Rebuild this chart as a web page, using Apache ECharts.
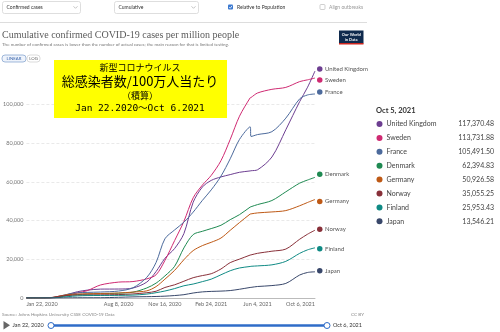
<!DOCTYPE html>
<html><head><meta charset="utf-8">
<script src="https://cdn.jsdelivr.net/npm/echarts@6/dist/echarts.min.js"></script>
<style>html,body{margin:0;padding:0;background:#fff}#c{width:500px;height:332px}</style>
</head><body><div id="c"></div>
<script>
// ---------- DATA ----------
const dates = ['2020-01-22','2020-02-21','2020-03-12','2020-04-01','2020-04-21','2020-05-11','2020-06-01','2020-06-30',
  '2020-08-08','2020-09-08','2020-10-08','2020-10-28','2020-11-16','2020-12-07','2020-12-27','2021-01-16','2021-02-05',
  '2021-02-24','2021-03-17','2021-04-06','2021-04-26','2021-05-19','2021-05-21','2021-06-04','2021-07-05','2021-08-04',
  '2021-09-03','2021-09-20','2021-10-06'];
const countries = ['United Kingdom','Sweden','France','Denmark','Germany','Norway','Finland','Japan'];
const ukValues      = [0,0,9,430,1900,3240,4050,4600,4640,5150,8250,13700,20500,25600,33300,49500,57400,60800,62600,63800,65000,65700,65800,66300,72900,87000,101600,109000,117370];
const swedenValues  = [0,0,50,485,1510,2640,3760,6730,8220,8500,9900,12000,19400,29700,39600,51800,58400,63400,71000,82000,94000,103500,103700,106000,107900,108900,111900,112800,113732];
const franceValues  = [0,0,40,870,2000,2700,2900,3090,3600,5280,10700,18400,30600,35200,39200,44400,50500,55900,63000,72000,82000,88500,83500,84500,86000,93000,103000,105000,105492];
const denmarkValues = [0,0,120,530,1340,1800,2000,2200,2480,3000,5200,7700,11400,16400,25900,32800,34500,35900,37600,40500,43100,47000,47200,48300,50400,54900,59400,61000,62395];
const germanyValues = [0,0,30,920,1770,2050,2200,2330,2580,3060,3700,5900,9730,14300,19800,24500,27100,28800,31000,35000,39000,43400,43500,44000,44500,45200,47700,49400,50927];
const norwayValues  = [0,0,130,850,1350,1510,1560,1640,1770,2100,2730,3500,5440,6830,8670,10500,11600,12550,15000,18300,20100,22200,22300,23100,24200,25300,30400,33000,35055];
const finlandValues = [0,0,20,250,720,1090,1240,1300,1370,1500,2020,2750,3610,4870,6320,7220,8480,9750,12000,14100,15520,16300,16400,16600,17150,18950,23100,24900,25953];
const japanValues   = [0,0,5,18,90,125,135,147,365,580,690,790,950,1270,1720,2580,3160,3410,3570,3850,4520,5450,5500,5950,6430,7540,11900,13200,13546];
const seriesValues = [ukValues, swedenValues, franceValues, denmarkValues, germanyValues, norwayValues, finlandValues, japanValues];
const xTickDates  = ['2020-01-22','2020-08-08','2020-11-16','2021-02-24','2021-06-04','2021-10-06'];
const xTickLabels = ['Jan 22, 2020','Aug 8, 2020','Nov 16, 2020','Feb 24, 2021','Jun 4, 2021','Oct 6, 2021'];
const yTickStep = 20000;
const panelDate = 'Oct 5, 2021';
const panelValues = ['117,370.48','113,731.88','105,491.50','62,394.83','50,926.58','35,055.25','25,953.43','13,546.21'];

// ---------- STYLE ----------
const colors = ['#6d3e91','#cf2a72','#4c6a9c','#1f8a52','#be5915','#883039','#0f8a84','#38476a'];
const labelNudge = [-2,2,-2,-3,2,-1,1,-1];

const t0 = Date.parse('2020-01-22T00:00:00Z');
const dayOf = s => Math.round((Date.parse(s + 'T00:00:00Z') - t0) / 864e5);
const xTickDays = xTickDates.map(dayOf);
const xMax = dayOf(dates[dates.length - 1]);
const yMax = Math.max(...seriesValues.map(a => Math.max(...a)));

const chart = echarts.init(document.getElementById('c'), null, {renderer: 'canvas'});
const UI = 'Lato, "Noto Sans", sans-serif';

const series = countries.map((name, i) => ({
  name, type: 'line', symbol: 'none', smooth: 0.3,
  lineStyle: {width: 1, color: colors[i]},
  itemStyle: {color: colors[i]},
  data: dates.map((d, k) => [dayOf(d), seriesValues[i][k]]),
  endLabel: {
    show: true, distance: 2, offset: [0, labelNudge[i]],
    formatter: '{d|}{n|' + name + '}',
    rich: {
      d: {width: 5.5, height: 5.5, borderRadius: 3, backgroundColor: colors[i]},
      n: {fontSize: 6, color: '#555', fontFamily: UI, padding: [0, 0, 0, 2.5]}
    }
  }
}));

const g = [];
// top controls
function dropdown(x, w, txt) {
  g.push({type: 'rect', shape: {x: x, y: 1.5, width: w, height: 12, r: 2}, style: {fill: '#fff', stroke: '#d5d5d5', lineWidth: 0.8}});
  g.push({type: 'text', style: {x: x + 4, y: 7.5, text: txt, fontSize: 5, fill: '#333', fontFamily: UI, verticalAlign: 'middle'}});
  g.push({type: 'polyline', shape: {points: [[x + w - 7, 6.3], [x + w - 5, 8.3], [x + w - 3, 6.3]]}, style: {stroke: '#aaa', lineWidth: 0.7, fill: null}});
}
dropdown(2.5, 78, 'Confirmed cases');
dropdown(114.5, 84, 'Cumulative');
g.push({type: 'rect', shape: {x: 228, y: 4.5, width: 5, height: 5, r: 1}, style: {fill: '#3a78d0'}});
g.push({type: 'polyline', shape: {points: [[229.2, 7], [230.3, 8.2], [232, 5.8]]}, style: {stroke: '#fff', lineWidth: 0.8, fill: null}});
g.push({type: 'text', style: {x: 237, y: 7.2, text: 'Relative to Population', fontSize: 5, fill: '#333', fontFamily: UI, verticalAlign: 'middle'}});
g.push({type: 'rect', shape: {x: 320, y: 4.5, width: 5, height: 5, r: 1}, style: {fill: '#fff', stroke: '#bbb', lineWidth: 0.7}});
g.push({type: 'text', style: {x: 329, y: 7.2, text: 'Align outbreaks', fontSize: 5, fill: '#999', fontFamily: UI, verticalAlign: 'middle'}});
g.push({type: 'line', shape: {x1: 0, y1: 22.5, x2: 367, y2: 22.5}, style: {stroke: '#ddd', lineWidth: 1}});
// title
g.push({type: 'text', style: {x: 2, y: 35, text: 'Cumulative confirmed COVID-19 cases per million people', fontSize: 10, fill: '#5b5b5b', fontFamily: '"Liberation Serif", serif', verticalAlign: 'middle'}});
g.push({type: 'text', style: {x: 2, y: 45, text: 'The number of confirmed cases is lower than the number of actual cases; the main reason for that is limited testing.', fontSize: 4.5, fill: '#777', fontFamily: UI, verticalAlign: 'middle'}});
// logo
g.push({type: 'rect', shape: {x: 339, y: 30.5, width: 24.5, height: 13}, style: {fill: '#0f2a4d'}});
g.push({type: 'rect', shape: {x: 339, y: 43, width: 24.5, height: 1.5}, style: {fill: '#ce261e'}});
g.push({type: 'text', style: {x: 351.2, y: 34.5, text: 'Our World', fontSize: 4, fontWeight: 'bold', fill: '#fff', fontFamily: UI, align: 'center', verticalAlign: 'middle'}});
g.push({type: 'text', style: {x: 351.2, y: 39.5, text: 'in Data', fontSize: 4, fontWeight: 'bold', fill: '#fff', fontFamily: UI, align: 'center', verticalAlign: 'middle'}});
// linear / log
g.push({type: 'rect', shape: {x: 2, y: 55, width: 24, height: 7, r: 3}, style: {fill: '#eef3fb', stroke: '#7a9ccc', lineWidth: 0.7}});
g.push({type: 'text', style: {x: 14, y: 58.6, text: 'LINEAR', fontSize: 4.3, fill: '#3360a9', fontFamily: UI, align: 'center', verticalAlign: 'middle'}});
g.push({type: 'rect', shape: {x: 27, y: 55, width: 13, height: 7, r: 3}, style: {fill: '#fff', stroke: '#ccc', lineWidth: 0.7}});
g.push({type: 'text', style: {x: 33.5, y: 58.6, text: 'LOG', fontSize: 4.3, fill: '#666', fontFamily: UI, align: 'center', verticalAlign: 'middle'}});
// yellow annotation
g.push({type: 'rect', shape: {x: 54, y: 60, width: 173, height: 58}, style: {fill: '#ffff00'}, z: 10});
const JP = '"Noto Sans CJK JP", sans-serif';
g.push({type: 'text', z: 11, style: {x: 140, y: 67.5, text: '新型コロナウイルス', fontSize: 9, fill: '#000', fontFamily: JP, align: 'center', verticalAlign: 'middle'}});
g.push({type: 'text', z: 11, style: {x: 140, y: 81, text: '総感染者数/100万人当たり', fontSize: 13, fill: '#000', fontFamily: JP, align: 'center', verticalAlign: 'middle'}});
g.push({type: 'text', z: 11, style: {x: 140, y: 96, text: '（積算）', fontSize: 9, fill: '#000', fontFamily: JP, align: 'center', verticalAlign: 'middle'}});
g.push({type: 'text', z: 11, style: {x: 140, y: 109, text: 'Jan 22.2020～Oct 6.2021', fontSize: 9.5, fill: '#000', fontFamily: '"DejaVu Sans Mono", "Noto Sans CJK JP", monospace', align: 'center', verticalAlign: 'middle'}});
// footer
g.push({type: 'text', style: {x: 2, y: 315, text: 'Source: Johns Hopkins University CSSE COVID-19 Data', fontSize: 4.6, fill: '#888', fontFamily: UI, verticalAlign: 'middle'}});
g.push({type: 'text', style: {x: 364, y: 315, text: 'CC BY', fontSize: 4.6, fill: '#888', fontFamily: UI, align: 'right', verticalAlign: 'middle'}});
g.push({type: 'polygon', shape: {points: [[3.5, 321], [3.5, 329.5], [10, 325.2]]}, style: {fill: '#666'}});
g.push({type: 'text', style: {x: 12.5, y: 325.5, text: xTickLabels[0], fontSize: 5.5, fill: '#333', fontFamily: UI, verticalAlign: 'middle'}});
g.push({type: 'line', shape: {x1: 51, y1: 325.5, x2: 327, y2: 325.5}, style: {stroke: '#2f6cc8', lineWidth: 2.5}});
g.push({type: 'circle', shape: {cx: 51, cy: 325.5, r: 3}, style: {fill: '#fff', stroke: '#2f6cc8', lineWidth: 1}});
g.push({type: 'circle', shape: {cx: 327, cy: 325.5, r: 3}, style: {fill: '#fff', stroke: '#2f6cc8', lineWidth: 1}});
g.push({type: 'text', style: {x: 333, y: 325.5, text: xTickLabels[xTickLabels.length - 1], fontSize: 5.5, fill: '#333', fontFamily: UI, verticalAlign: 'middle'}});
// right panel
g.push({type: 'text', style: {x: 376, y: 111, text: panelDate, fontSize: 7.5, fontWeight: 'bold', fill: '#333', fontFamily: UI, verticalAlign: 'middle'}});
countries.forEach((name, i) => {
  const y = 124 + 13.9 * i;
  g.push({type: 'circle', shape: {cx: 379.5, cy: y, r: 3}, style: {fill: colors[i]}});
  g.push({type: 'text', style: {x: 386.5, y: y, text: name, fontSize: 7, fill: '#444', fontFamily: UI, verticalAlign: 'middle'}});
  g.push({type: 'text', style: {x: 494, y: y, text: panelValues[i], fontSize: 7, fill: '#444', fontFamily: UI, align: 'right', verticalAlign: 'middle'}});
});

chart.setOption({
  animation: false,
  backgroundColor: '#fff',
  grid: {left: 25, right: 185, top: 71, bottom: 34},
  xAxis: {
    type: 'value', min: 0, max: xMax,
    axisLine: {show: true, lineStyle: {color: '#bbb', width: 1}},
    axisTick: {show: false, customValues: xTickDays},
    splitLine: {show: false},
    axisLabel: {
      customValues: xTickDays, fontSize: 5.5, color: '#666', fontFamily: UI, margin: 3,
      alignMinLabel: 'left', alignMaxLabel: 'right',
      formatter: v => { const k = xTickDays.indexOf(Math.round(v)); return k >= 0 ? xTickLabels[k] : ''; }
    }
  },
  yAxis: {
    type: 'value', min: 0, max: yMax, interval: yTickStep,
    axisLine: {show: false}, axisTick: {show: false},
    splitLine: {show: true, showMaxLine: false, lineStyle: {color: '#e3e3e3', type: [3, 2], width: 0.8}},
    axisLabel: {fontSize: 5.5, color: '#777', fontFamily: UI, margin: 3, showMaxLabel: false,
      formatter: v => v.toLocaleString('en-US')}
  },
  series: series,
  graphic: {elements: g}
});
</script></body></html>
